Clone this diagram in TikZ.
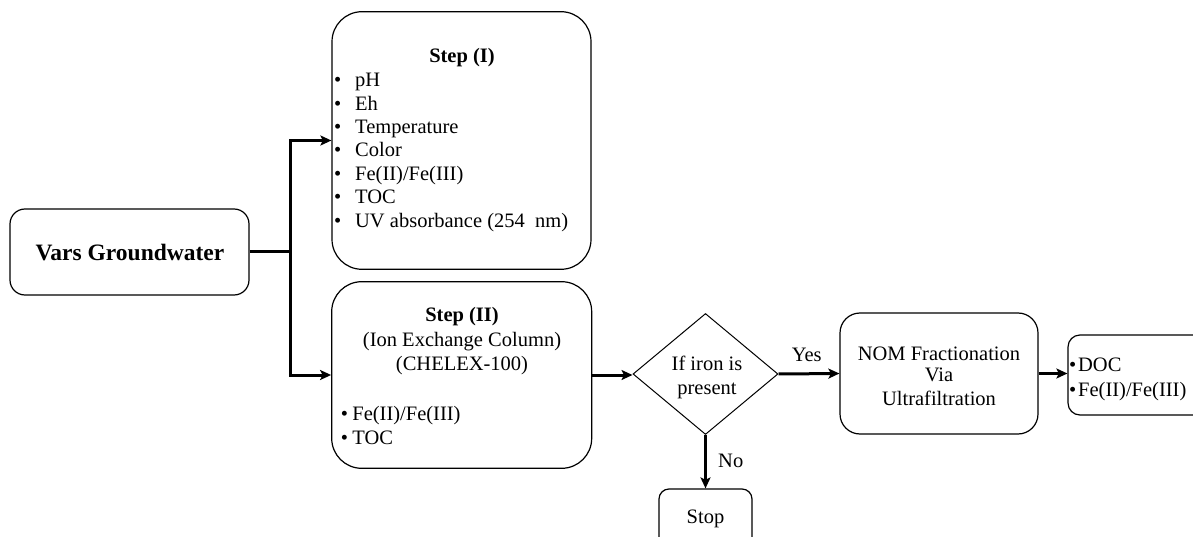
\documentclass[tikz,border=0pt]{standalone}
\usepackage{fontspec}
\setmainfont{Liberation Serif}
\usetikzlibrary{arrows.meta,shapes.geometric}
\tikzset{
  box/.style={draw, line width=1.2pt, rounded corners=#1, inner sep=0pt},
  box/.default=15pt,
  txt/.style={font=\fontsize{20.5}{23.5}\selectfont, inner sep=0pt},
  btxt/.style={font=\fontsize{20.5}{23.5}\selectfont\bfseries, inner sep=0pt},
  flow/.style={line width=3pt, -{Stealth[length=11pt,width=10pt,inset=2.5pt]}},
  conn/.style={line width=3pt},
}
\newcommand{\blt}[1]{\makebox[#1][l]{•}}
\begin{document}
\begin{tikzpicture}[x=1pt,y=-1pt]
\fill[white] (0,0) rectangle (1193,537);
\clip (0,0) rectangle (1193,537);
\useasboundingbox (0,0) rectangle (1193,537);

% Vars groundwater
\node[box=15pt, minimum width=239pt, minimum height=86pt] (vars) at (129.5,252) {};
\node[btxt, font=\fontsize{23.5}{27}\selectfont\bfseries, anchor=base] (varst) at (130,260.5) {Vars Groundwater};

% Step I
\node[box=30pt, minimum width=259pt, minimum height=257.6pt] (s1) at (461.5,140.5) {};
\node[btxt, anchor=base] (s1t) at (462,63) {Step (I)};
\foreach \t [count=\i] in {pH,Eh,Temperature,Color,Fe(II)/Fe(III),TOC,UV absorbance (254~~nm)}
  \node[txt, anchor=base west] (s1i\i) at (334,{86.7+23.4*(\i-1)}) {\blt{21pt}\t};

% Step II
\node[box=30pt, minimum width=260pt, minimum height=186.6pt] (s2) at (461.7,375) {};
\node[btxt, anchor=base] (s2t) at (462,321.7) {Step (II)};
\node[txt, anchor=base] (s2a) at (462,346.7) {(Ion Exchange Column)};
\node[txt, anchor=base] (s2b) at (462,370) {(CHELEX-100)};
\node[txt, anchor=base west] (s2i1) at (340.7,420) {\blt{11.5pt}Fe(II)/Fe(III)};
\node[txt, anchor=base west] (s2i2) at (340.7,444) {\blt{11.5pt}TOC};

% Decision
\node[draw, diamond, line width=1pt, minimum width=145pt, minimum height=121pt, inner sep=0pt] (dia) at (705.5,374) {};
\node[txt, anchor=base] (dia1) at (707,370) {If iron is};
\node[txt, anchor=base] (dia2) at (707,394) {present};

% NOM
\node[box=20pt, minimum width=198pt, minimum height=121pt] (nom) at (939,373.5) {};
\node[txt, anchor=base] (nom1) at (939,360) {NOM Fractionation};
\node[txt, anchor=base] (nom2) at (939,381.7) {Via};
\node[txt, anchor=base] (nom3) at (939,405) {Ultrafiltration};

% Output
\node[box=12pt, minimum width=192pt, minimum height=80pt] (out) at (1164,375) {};
\node[txt, anchor=base west] (out1) at (1069,371.7) {\blt{9pt}DOC};
\node[txt, anchor=base west] (out2) at (1069,396.7) {\blt{9pt}Fe(II)/Fe(III)};

% Stop
\node[box=10pt, minimum width=93pt, minimum height=71pt] (stop) at (705.5,524.5) {};
\node[txt, anchor=base] (stopt) at (705.5,523) {Stop};

% connectors
\coordinate (j) at (290,252);
\draw[conn] (vars.east) -- (j);
\draw[flow] (j) |- (s1.west);
\draw[flow] (j) |- (s2.west);
\draw[flow] (s2.east) -- (s2.east -| dia.west);
\draw[flow] (dia.east) -- (nom.west);
\draw[flow] (nom.east) -- (nom.east -| out.west);
\draw[flow] (dia.south) -- (stop.north);

\node[txt, anchor=base] (yes) at (806.7,361.7) {Yes};
\node[txt, anchor=base west] (no) at (718,467) {No};
\end{tikzpicture}
\end{document}
